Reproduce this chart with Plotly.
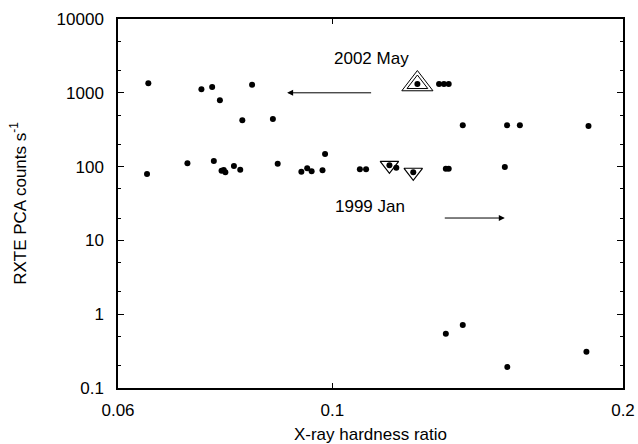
import math
import plotly.graph_objects as go

# --- data (hardness ratio, PCA count rate) ---
hr_points = [0.0645, 0.0732, 0.0751, 0.0765, 0.0807, 0.0826, 0.0868,
             0.1290, 0.1305, 0.1320, 0.1365, 0.1517, 0.1564, 0.1842,
             0.0643, 0.0708, 0.0754, 0.0768, 0.0772, 0.0775, 0.0791, 0.0803,
             0.0878, 0.0929, 0.0942, 0.0952, 0.0977, 0.0983,
             0.1068, 0.1084, 0.1146, 0.1165, 0.1213, 0.1311, 0.1320, 0.1509,
             0.1311, 0.1365, 0.1518, 0.1833, 0.1225]
rate_points = [1345, 1115, 1200, 791, 424, 1288, 442,
               1315, 1315, 1315, 363, 363, 363, 355,
               79.4, 111, 119, 88, 90, 84, 102, 90.8,
               109, 85.3, 94.8, 86.3, 89.1, 148,
               91.8, 91.8, 104, 96.6, 83.8, 93.8, 93.8, 98.8,
               0.545, 0.714, 0.193, 0.310, 1315]

may2002_hr = [0.1225]
may2002_rate = [1315]
jan1999_hr = [0.1146, 0.1213]
jan1999_rate = [104, 83.8]

xticks = [0.06, 0.1, 0.2]
xticklabels = ["0.06", "0.1", "0.2"]
yticks = [0.1, 1, 10, 100, 1000, 10000]
yticklabels = ["0.1", "1", "10", "100", "1000", "10000"]

# annotation anchors (data coordinates)
may_label = (0.1098, 2950)
may_arrow_tail = (0.1101, 1000)
may_arrow_tip = (0.0898, 1000)
jan_label = (0.1095, 28.4)
jan_arrow_tail = (0.1303, 20.1)
jan_arrow_tip = (0.1509, 20.1)

FONT = "Liberation Sans, Arial, sans-serif"
FS = 17

fig = go.Figure()
fig.add_trace(go.Scatter(x=hr_points, y=rate_points, mode="markers",
                         marker=dict(color="black", size=6), showlegend=False,
                         hoverinfo="skip"))
fig.add_trace(go.Scatter(x=may2002_hr, y=may2002_rate, mode="markers",
                         marker=dict(symbol="triangle-up-open", size=27, color="black",
                                     line=dict(width=1, color="black")),
                         showlegend=False, hoverinfo="skip"))
fig.add_trace(go.Scatter(x=may2002_hr, y=may2002_rate, mode="markers",
                         marker=dict(symbol="triangle-up-open", size=18, color="black",
                                     line=dict(width=1, color="black")),
                         showlegend=False, hoverinfo="skip"))
fig.add_trace(go.Scatter(x=jan1999_hr, y=jan1999_rate, mode="markers",
                         marker=dict(symbol="triangle-down-open", size=16, color="black",
                                     line=dict(width=1.2, color="black")),
                         showlegend=False, hoverinfo="skip"))

L = math.log10
fig.add_annotation(x=L(may_label[0]), y=L(may_label[1]), xref="x", yref="y",
                   text="2002 May", showarrow=False,
                   font=dict(family=FONT, size=FS, color="black"))
fig.add_annotation(x=L(jan_label[0]), y=L(jan_label[1]), xref="x", yref="y",
                   text="1999 Jan", showarrow=False,
                   font=dict(family=FONT, size=FS, color="black"))
for tail, tip in [(may_arrow_tail, may_arrow_tip), (jan_arrow_tail, jan_arrow_tip)]:
    fig.add_annotation(x=L(tip[0]), y=L(tip[1]), ax=L(tail[0]), ay=L(tail[1]),
                       xref="x", yref="y", axref="x", ayref="y", text="",
                       showarrow=True, arrowhead=2, arrowsize=1.2, arrowwidth=1,
                       arrowcolor="black")

fig.update_xaxes(type="log", range=[L(0.06), L(0.2)], tickvals=xticks,
                 ticktext=xticklabels, ticks="inside", ticklen=5, tickcolor="black",
                 showline=True, linecolor="black", linewidth=1.5, mirror="ticks",
                 showgrid=False, zeroline=False, ticklabelstandoff=6, automargin=False,
                 tickfont=dict(family=FONT, size=FS, color="black"),
                 title=dict(text="X-ray hardness ratio", standoff=9,
                            font=dict(family=FONT, size=FS, color="black")))
fig.update_yaxes(type="log", range=[-1, 4], tickvals=yticks, ticktext=yticklabels,
                 ticks="inside", ticklen=6, tickcolor="black",
                 minor=dict(ticks="inside", ticklen=3, dtick="D2", tickcolor="black",
                            showgrid=False),
                 showline=True, linecolor="black", linewidth=1.5, mirror="ticks",
                 showgrid=False, zeroline=False, ticklabelstandoff=9, automargin=False,
                 tickfont=dict(family=FONT, size=FS, color="black"),
                 title=dict(text="RXTE PCA counts s<sup>-1</sup>", standoff=26,
                            font=dict(family=FONT, size=FS, color="black")))

fig.update_layout(width=638, height=444, margin=dict(l=118, r=15, t=19, b=56),
                  plot_bgcolor="white", paper_bgcolor="white",
                  font=dict(family=FONT, size=FS, color="black"))

fig.write_html("out.html")
